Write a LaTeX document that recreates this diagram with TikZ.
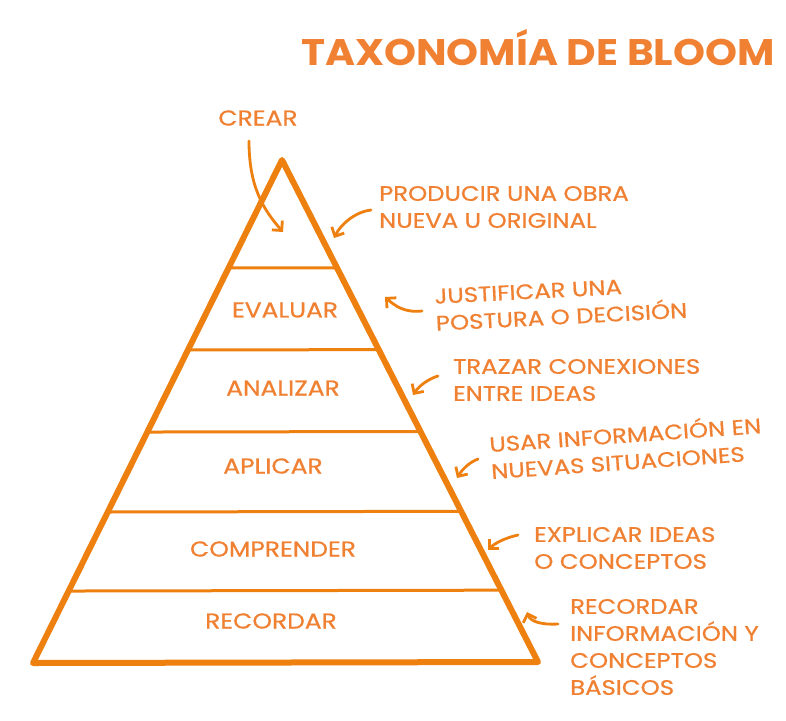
\documentclass[tikz,border=0pt]{standalone}
\usepackage{fontspec}
\setmainfont{Poppins}
\newfontfamily\widefont[FakeStretch=1.16,FakeBold=0.7]{Poppins}
\newfontfamily\titlefont[FakeStretch=1.1]{Poppins}
\usetikzlibrary{arrows.meta,calc}
\definecolor{lineor}{RGB}{238,128,16}
\definecolor{textor}{RGB}{240,128,50}
\begin{document}
\begin{tikzpicture}[x=1pt,y=-1pt,
  pyr/.style={draw=lineor,line width=6pt,line join=round,line cap=round},
  tier/.style={draw=lineor,line width=3pt,line cap=round},
  arr/.style={draw=lineor,line width=2.8pt,line cap=round,-{Straight Barb[length=7pt,width=14pt]}},
  lvl/.style={text=textor,font=\widefont\fontsize{21.5}{21.5}\selectfont,inner sep=0pt},
  desc/.style={text=textor,font=\widefont\fontsize{21}{27}\selectfont,align=left,anchor=west,inner sep=0pt},
]
\useasboundingbox[fill=white] (0,0) rectangle (786,720);
% title
\node[text=textor,font=\titlefont\fontsize{37}{37}\selectfont\bfseries,inner sep=0pt] (title) at (538,48) {TAXONOMÍA DE BLOOM};
% pyramid
\coordinate (apex) at (282,160);
\coordinate (bl) at (33,663);
\coordinate (br) at (538,662);
\draw[pyr] (apex) -- (br) -- (bl) -- cycle;
\foreach \t [count=\i] in {0.2147,0.3777,0.5408,0.6998,0.8569} {
  \coordinate (L\i) at ($(apex)!\t!(bl)$);
  \coordinate (R\i) at ($(apex)!\t!(br)$);
  \draw[tier] (L\i) -- (R\i);
}
% level labels
\node[lvl] (crear) at (258,118) {CREAR};
\node[lvl] (evaluar) at (285,310) {EVALUAR};
\node[lvl] (analizar) at (283,388) {ANALIZAR};
\node[lvl] (aplicar) at (273,466) {APLICAR};
\node[lvl] (comprender) at (273,549) {COMPRENDER};
\node[lvl] (recordar) at (271,621) {RECORDAR};
% descriptions
\node[desc] (dcrear) at (379,207) {PRODUCIR UNA OBRA\\NUEVA U ORIGINAL};
\node[desc,rotate=3] (devaluar) at (435,310) {JUSTIFICAR UNA\\POSTURA O DECISIÓN};
\node[desc] (danalizar) at (453,380) {TRAZAR CONEXIONES\\ENTRE IDEAS};
\node[desc,rotate=4] (daplicar) at (490,456) {USAR INFORMACIÓN EN\\NUEVAS SITUACIONES};
\node[desc] (dcomprender) at (534,548) {EXPLICAR IDEAS\\O CONCEPTOS};
\node[desc] (drecordar) at (570,647) {RECORDAR\\INFORMACIÓN Y\\CONCEPTOS\\BÁSICOS};
% arrow targets
\coordinate (tcrear) at (283,232);
\coordinate (tdcrear) at (334,238);
\coordinate (tdevaluar) at (385,297);
\coordinate (tdanalizar) at (413,395);
\coordinate (tdaplicar) at (457,478);
\coordinate (tdcomprender) at (488,550);
\coordinate (tdrecordar) at (527,612);
% arrows
\draw[arr] ($(crear.center)+(-9,23)$) .. controls (249,185) and (262,208) .. (tcrear);
\draw[arr] ($(dcrear.west)+(-8,3)$) .. controls (355,212) and (341,224) .. (tdcrear);
\draw[arr] ($(devaluar.west)+(-13,1)$) .. controls (405,313) and (395,306) .. (tdevaluar);
\draw[arr] ($(danalizar.west)+(-15,-4)$) .. controls (428,379) and (419,386) .. (tdanalizar);
\draw[arr] ($(daplicar.west)+(-12,3)$) .. controls (468,463) and (462,470) .. (tdaplicar);
\draw[arr] ($(dcomprender.west)+(-16,-13)$) .. controls (505,538) and (495,543) .. (tdcomprender);
\draw[arr] ($(drecordar.west)+(-12,-23)$) .. controls (540,625) and (530,621) .. (tdrecordar);
\end{tikzpicture}
\end{document}
